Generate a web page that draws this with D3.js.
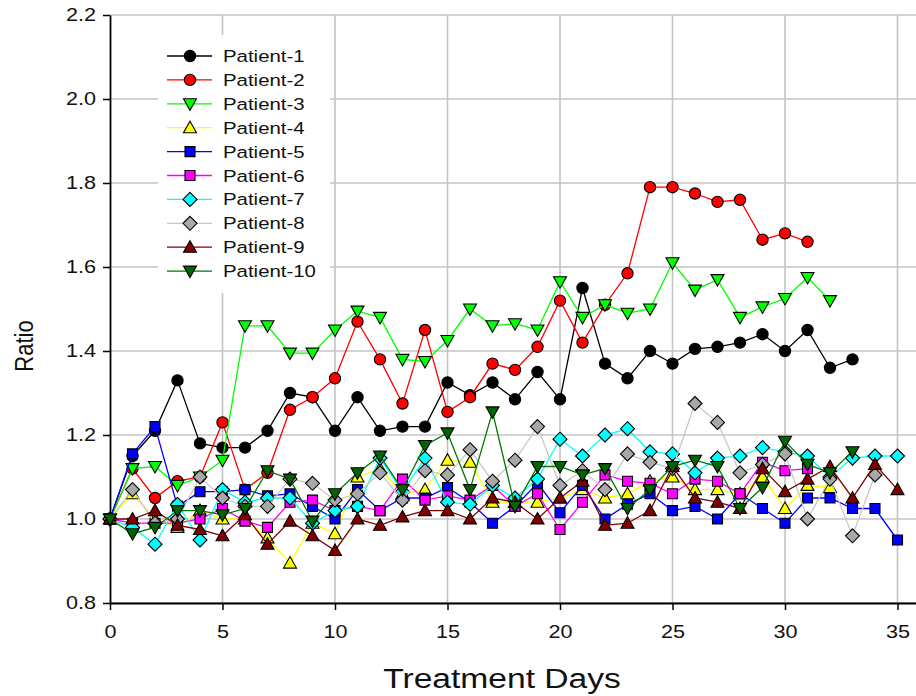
<!DOCTYPE html>
<html>
<head>
<meta charset="utf-8">
<script src="https://cdn.jsdelivr.net/npm/d3@7"></script>
<style>
  body { margin: 0; background: #fff; }
  svg { font-family: "Liberation Sans", Arial, sans-serif; }
</style>
</head>
<body>
<div id="chart"></div>
<script>
// values, one array per patient, index = treatment day
var patient1 = [1.00, 1.15, 1.21, 1.33, 1.18, 1.17, 1.17, 1.21, 1.30, 1.29, 1.21, 1.29, 1.21, 1.22, 1.22, 1.325, 1.295, 1.325, 1.285, 1.35, 1.285, 1.55, 1.37, 1.335, 1.40, 1.37, 1.405, 1.41, 1.42, 1.44, 1.40, 1.45, 1.36, 1.38];
var patient2 = [1.00, 1.12, 1.05, 1.09, 1.10, 1.23, 1.07, 1.11, 1.26, 1.29, 1.335, 1.47, 1.38, 1.275, 1.45, 1.255, 1.29, 1.37, 1.355, 1.41, 1.52, 1.42, 1.51, 1.585, 1.79, 1.79, 1.775, 1.755, 1.76, 1.665, 1.68, 1.66];
var patient3 = [1.00, 1.12, 1.125, 1.08, 1.10, 1.14, 1.46, 1.46, 1.395, 1.395, 1.45, 1.495, 1.48, 1.38, 1.375, 1.425, 1.50, 1.46, 1.465, 1.45, 1.565, 1.48, 1.51, 1.49, 1.50, 1.61, 1.545, 1.57, 1.48, 1.505, 1.525, 1.575, 1.52];
var patient4 = [1.00, 1.06, 1.00, 0.98, 1.02, 1.00, 1.00, 0.955, 0.895, 0.99, 0.965, 1.10, 1.12, 1.06, 1.07, 1.14, 1.135, 1.04, 1.04, 1.04, 1.05, 1.07, 1.05, 1.06, 1.09, 1.10, 1.07, 1.07, 1.06, 1.10, 1.025, 1.08, 1.075];
var patient5 = [1.00, 1.155, 1.22, 1.03, 1.065, 1.065, 1.07, 1.055, 1.06, 1.03, 1.00, 1.07, 1.02, 1.05, 1.05, 1.075, 1.04, 0.99, 1.03, 1.085, 1.015, 1.08, 1.00, 1.035, 1.06, 1.02, 1.03, 1.00, 1.06, 1.025, 0.99, 1.05, 1.05, 1.025, 1.025, 0.95];
var patient6 = [1.00, 0.99, 0.99, 0.99, 1.00, 1.025, 0.995, 0.98, 1.04, 1.045, 1.02, 1.03, 1.02, 1.095, 1.045, 1.055, 1.045, 1.08, 1.03, 1.06, 0.975, 1.04, 1.105, 1.09, 1.085, 1.06, 1.095, 1.09, 1.06, 1.135, 1.115, 1.12];
var patient7 = [1.00, 0.98, 0.94, 1.035, 0.95, 1.07, 1.04, 1.05, 1.05, 0.99, 1.02, 1.03, 1.145, 1.065, 1.145, 1.04, 1.035, 1.08, 1.05, 1.095, 1.19, 1.15, 1.20, 1.215, 1.16, 1.155, 1.11, 1.145, 1.15, 1.17, 1.16, 1.15, 1.10, 1.145, 1.15, 1.15];
var patient8 = [1.00, 1.07, 0.99, 1.00, 1.10, 1.05, 1.03, 1.03, 1.095, 1.085, 1.045, 1.06, 1.11, 1.045, 1.115, 1.105, 1.165, 1.09, 1.14, 1.22, 1.08, 1.115, 1.07, 1.155, 1.135, 1.12, 1.275, 1.23, 1.11, 1.13, 1.155, 1.00, 1.095, 0.96, 1.105];
var patient9 = [1.00, 1.00, 1.02, 0.985, 0.975, 0.96, 1.01, 0.94, 0.995, 0.96, 0.925, 1.00, 0.985, 1.005, 1.02, 1.02, 1.00, 1.05, 1.04, 1.00, 1.05, 1.09, 0.985, 0.99, 1.02, 1.125, 1.05, 1.04, 1.025, 1.12, 1.065, 1.095, 1.125, 1.05, 1.13, 1.07];
var patient10 = [1.00, 0.965, 0.98, 1.02, 1.02, 1.01, 1.025, 1.115, 1.095, 0.995, 1.06, 1.11, 1.15, 1.07, 1.175, 1.205, 1.07, 1.255, 1.03, 1.125, 1.125, 1.105, 1.12, 1.025, 1.07, 1.125, 1.14, 1.125, 1.025, 1.075, 1.185, 1.13, 1.11, 1.16];

var seriesNames = ["Patient-1", "Patient-2", "Patient-3", "Patient-4", "Patient-5",
                   "Patient-6", "Patient-7", "Patient-8", "Patient-9", "Patient-10"];
var seriesValues = [patient1, patient2, patient3, patient4, patient5,
                    patient6, patient7, patient8, patient9, patient10];
var xTicks = [0, 5, 10, 15, 20, 25, 30, 35];
var yTicks = [0.8, 1.0, 1.2, 1.4, 1.6, 1.8, 2.0, 2.2];

// look of each series
var lineColors = ["#000000", "#ff0000", "#00ff00", "#ffff00", "#0000ff",
                  "#ff00ff", "#00ffff", "#c8c8c8", "#800000", "#007a00"];
var fillColors = ["#000000", "#ff0000", "#00ff00", "#ffff00", "#0000ff",
                  "#ff00ff", "#00ffff", "#a8a8a8", "#800000", "#006400"];
var shapes = ["circle", "circle", "down", "up", "square",
              "square", "diamond", "diamond", "up", "down"];

var W = 916, H = 696;
var stretch = 1.2;   // the original text is drawn wide

var svg = d3.select("#chart").append("svg")
    .attr("width", W)
    .attr("height", H);

var x = d3.scaleLinear().domain([0, 35.9]).range([110, 110 + 35.9 * 22.5]);
var y = d3.scaleLinear().domain([0.8, 2.2]).range([603, 15]);

// grid
svg.append("g")
    .selectAll("line")
    .data(yTicks)
    .enter().append("line")
    .attr("x1", x(0)).attr("x2", W)
    .attr("y1", function(d) { return y(d); })
    .attr("y2", function(d) { return y(d); })
    .attr("stroke", "#c4c4c4").attr("stroke-width", 1.6);

svg.append("g")
    .selectAll("line")
    .data(xTicks.slice(1))
    .enter().append("line")
    .attr("y1", y(0.8)).attr("y2", y(2.2))
    .attr("x1", function(d) { return x(d); })
    .attr("x2", function(d) { return x(d); })
    .attr("stroke", "#c4c4c4").attr("stroke-width", 1.6);

// axes
var xAxis = svg.append("g")
    .attr("transform", "translate(0," + y(0.8) + ")")
    .call(d3.axisBottom(x).tickValues(xTicks).tickSize(7).tickPadding(15).tickSizeOuter(0));
var yAxis = svg.append("g")
    .attr("transform", "translate(" + x(0) + ",0)")
    .call(d3.axisLeft(y).tickValues(yTicks).tickSize(7).tickPadding(4.7).tickSizeOuter(0)
          .tickFormat(d3.format(".1f")));

[xAxis, yAxis].forEach(function(a) {
    a.selectAll("path.domain").attr("stroke", "#000").attr("stroke-width", 1.8);
    a.selectAll(".tick line").attr("stroke", "#000").attr("stroke-width", 1.5);
    a.selectAll("text")
        .attr("font-size", "18px").attr("fill", "#111")
        .attr("font-family", "'Liberation Sans', Arial, sans-serif")
        .attr("transform", "scale(" + stretch + ",1)");
});

svg.append("text")
    .attr("transform", "translate(502,688) scale(" + stretch + ",1)")
    .attr("text-anchor", "middle")
    .attr("font-size", "28px")
    .attr("fill", "#111")
    .text("Treatment Days");

svg.append("text")
    .attr("transform", "translate(33,346) scale(" + stretch + ",1) rotate(-90)")
    .attr("text-anchor", "middle")
    .attr("font-size", "22px")
    .attr("fill", "#111")
    .text("Ratio");

function symbolPath(shape) {
    if (shape == "circle") return d3.symbol().type(d3.symbolCircle).size(100)();
    if (shape == "square") return d3.symbol().type(d3.symbolSquare).size(100)();
    if (shape == "diamond") return "M0,-7L7,0L0,7L-7,0Z";
    if (shape == "up") return "M0,-6.5L6.5,5L-6.5,5Z";
    return "M0,6.5L6.5,-5L-6.5,-5Z";
}

var line = d3.line()
    .x(function(d, i) { return x(i); })
    .y(function(d) { return y(d); });

var plot = svg.append("g");

// draw series in order so later ones sit on top
seriesValues.forEach(function(vals, k) {
    var g = plot.append("g");
    g.append("path")
        .datum(vals)
        .attr("d", line)
        .attr("fill", "none")
        .attr("stroke", lineColors[k])
        .attr("stroke-width", 1.3);
    g.selectAll("path.pt")
        .data(vals)
        .enter().append("path")
        .attr("class", "pt")
        .attr("transform", function(d, i) { return "translate(" + x(i) + "," + y(d) + ")"; })
        .attr("d", symbolPath(shapes[k]))
        .attr("fill", fillColors[k])
        .attr("stroke", "#000")
        .attr("stroke-width", 1.1);
});

// legend
var legend = svg.append("g");
legend.append("rect")
    .attr("x", 158).attr("y", 35)
    .attr("width", 172).attr("height", 258)
    .attr("fill", "#fff");

seriesNames.forEach(function(name, k) {
    var ly = 56 + k * 23.9;
    legend.append("line")
        .attr("x1", 167).attr("x2", 212)
        .attr("y1", ly).attr("y2", ly)
        .attr("stroke", lineColors[k]).attr("stroke-width", 1.3);
    legend.append("path")
        .attr("transform", "translate(190," + ly + ")")
        .attr("d", symbolPath(shapes[k]))
        .attr("fill", fillColors[k])
        .attr("stroke", "#000")
        .attr("stroke-width", 1.1);
    legend.append("text")
        .attr("transform", "translate(223," + (ly + 6) + ") scale(" + stretch + ",1)")
        .attr("font-size", "17px")
        .attr("fill", "#111")
        .text(name);
});
</script>
</body>
</html>
